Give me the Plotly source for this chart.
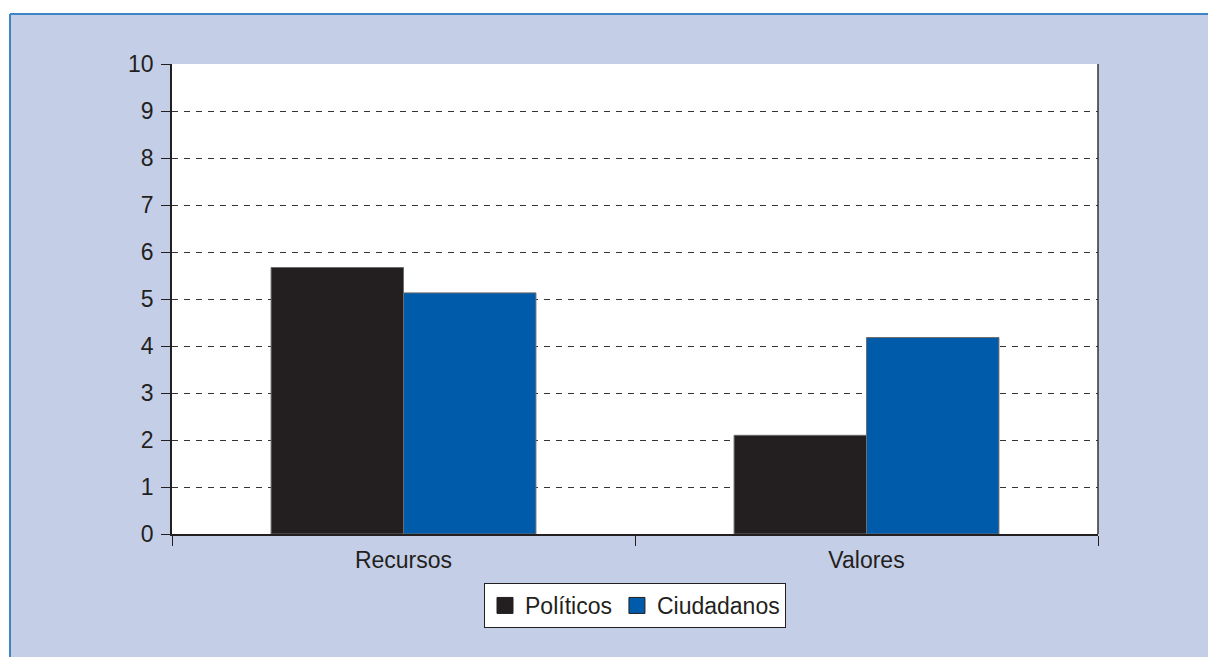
import plotly.graph_objects as go

categories = ["Recursos", "Valores"]
politicos = [5.67, 2.1]
ciudadanos = [5.13, 4.18]

W, H = 1208, 657
L, R, T, B = 172, 110, 64, 123
pw, ph = W - L - R, H - T - B


def px_x(x):
    return (x - L) / pw


def px_y(y):
    return (H - B - y) / ph


fig = go.Figure()
fig.add_trace(go.Bar(
    x=categories, y=politicos, name="Políticos", showlegend=False,
    marker=dict(color="#231F20", line=dict(color="#6d6d6d", width=1)),
))
fig.add_trace(go.Bar(
    x=categories, y=ciudadanos, name="Ciudadanos", showlegend=False,
    marker=dict(color="#005BAA", line=dict(color="#6d6d6d", width=1)),
))
# legend-only entries with bigger square keys
for name, color in [("Políticos", "#231F20"), ("Ciudadanos", "#005BAA")]:
    fig.add_trace(go.Scatter(
        x=[None], y=[None], mode="markers", name=name,
        marker=dict(symbol="square", size=16, color=color,
                    line=dict(color="#231F20", width=1)),
    ))

font = dict(family="Liberation Sans, Arial, sans-serif", size=23, color="#231F20")

fig.update_layout(
    width=W, height=H,
    margin=dict(l=L, r=R, t=T, b=B),
    paper_bgcolor="#C5CEE7",
    plot_bgcolor="white",
    barmode="group",
    bargap=0.428,
    bargroupgap=0,
    font=font,
    showlegend=True,
    legend=dict(
        orientation="h", x=0.5, xanchor="center", y=px_y(583), yanchor="top",
        bgcolor="white", bordercolor="#231F20", borderwidth=1,
        font=font, itemwidth=30, itemsizing="trace",
    ),
    shapes=[
        # white strips outside the framed panel
        dict(type="rect", xref="paper", yref="paper", x0=px_x(-5), x1=px_x(W + 5),
             y0=px_y(14), y1=px_y(-5), fillcolor="white", line_width=0, layer="below"),
        dict(type="rect", xref="paper", yref="paper", x0=px_x(-5), x1=px_x(10),
             y0=px_y(H + 5), y1=px_y(14), fillcolor="white", line_width=0, layer="below"),
        # blue frame lines
        dict(type="line", xref="paper", yref="paper", x0=px_x(10), x1=px_x(W + 5),
             y0=px_y(14), y1=px_y(14), line=dict(color="#3D85C6", width=2), layer="below"),
        dict(type="line", xref="paper", yref="paper", x0=px_x(10), x1=px_x(10),
             y0=px_y(14), y1=px_y(H + 5), line=dict(color="#3D85C6", width=2), layer="below"),
        # plot area right border
        dict(type="line", xref="paper", yref="paper", x0=1, x1=1, y0=0, y1=1,
             line=dict(color="#333333", width=1.5)),
    ],
)

fig.update_yaxes(
    range=[0, 10], dtick=1, tick0=0,
    showgrid=True, gridcolor="#333333", gridwidth=1, griddash="6px,6px",
    showline=True, linecolor="#231F20", linewidth=1.5,
    ticks="outside", ticklen=9, tickcolor="#231F20", ticklabelstandoff=3,
    zeroline=False, fixedrange=True,
)
fig.update_xaxes(
    showgrid=False,
    showline=True, linecolor="#231F20", linewidth=1.5,
    ticks="outside", ticklen=10, tickcolor="#231F20", tickson="boundaries",
    ticklabelstandoff=5,
    fixedrange=True,
)

# drop the default page margin so the figure fills the window
fig.write_html(
    "out.html",
    config={"displayModeBar": False},
    post_script="document.body.style.margin='0';document.body.style.overflow='hidden';",
)
